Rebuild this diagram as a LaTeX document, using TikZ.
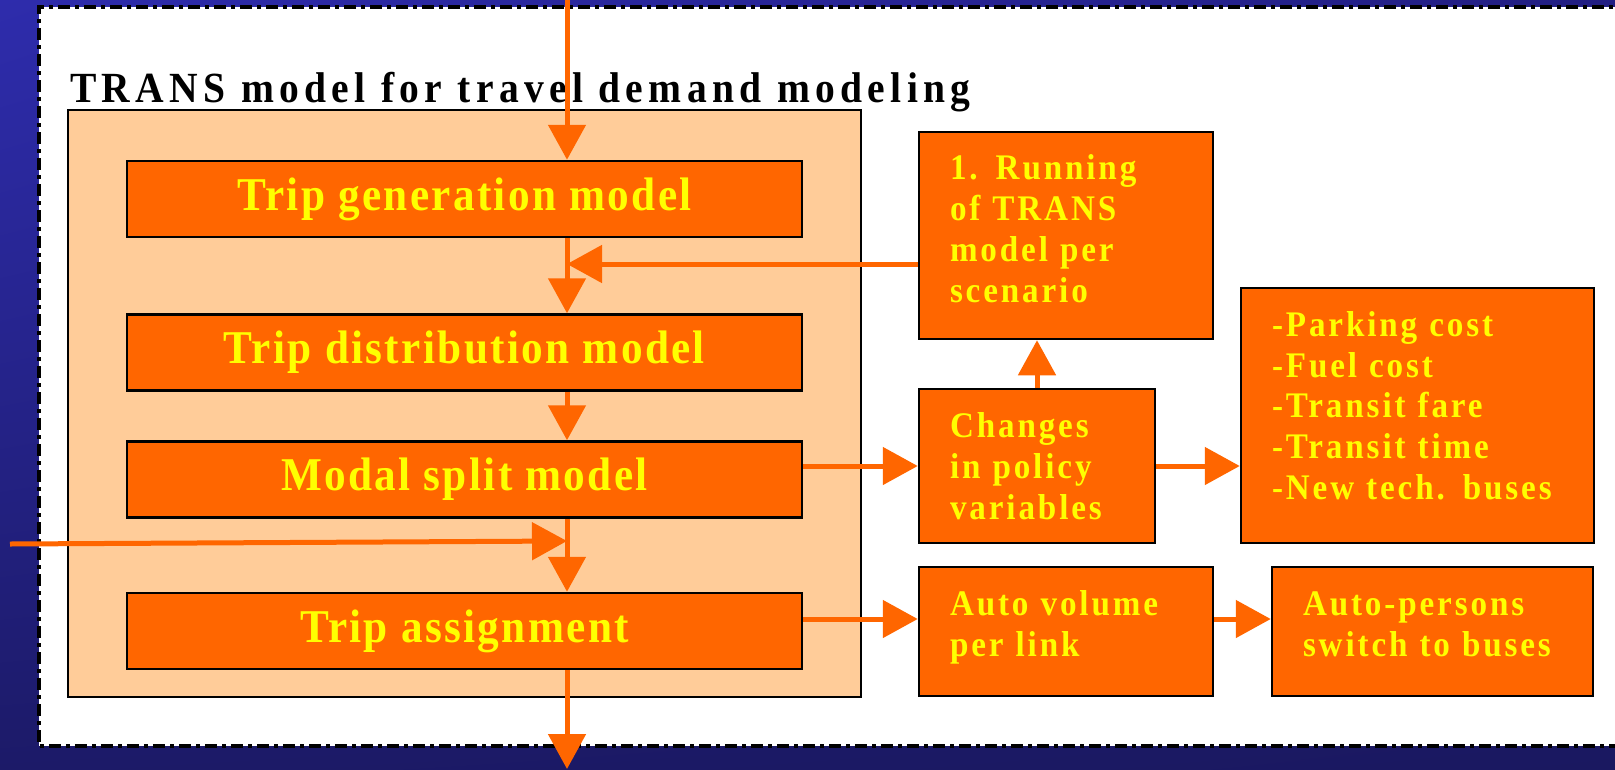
\documentclass[tikz,border=0pt]{standalone}
\usepackage{fontspec}
\setmainfont{Liberation Serif}
\newfontfamily\titlefont[FakeStretch=0.92,LetterSpace=12.5]{Liberation Serif}
\newfontfamily\stagefont[FakeStretch=0.92,LetterSpace=5]{Liberation Serif}
\newfontfamily\notefont[FakeStretch=0.92,LetterSpace=8]{Liberation Serif}
\usetikzlibrary{arrows.meta,shadings}

\definecolor{bgtl}{RGB}{46,44,172}
\definecolor{bgtr}{RGB}{34,30,130}
\definecolor{bgbl}{RGB}{28,26,104}
\definecolor{bgbr}{RGB}{26,24,96}
\definecolor{modelorange}{RGB}{255,102,0}
\definecolor{modelyellow}{RGB}{255,255,0}
\definecolor{peach}{RGB}{255,204,153}

\begin{document}
\begin{tikzpicture}[x=1pt, y=-1pt,
    stage/.style={draw, line width=2.5pt, fill=modelorange, text=modelyellow,
        minimum width=675pt, minimum height=76pt, inner sep=0pt,
        font=\stagefont\bfseries\fontsize{47}{54}\selectfont},
    note/.style={draw, line width=2.5pt, fill=modelorange, text=modelyellow,
        align=left, inner ysep=0pt, inner xsep=31pt,
        font=\notefont\bfseries\fontsize{36}{40.7}\selectfont},
    flow/.style={draw=modelorange, line width=5pt,
        -{Triangle[length=35pt,width=37pt]}}]

        \useasboundingbox (0,0) rectangle (1615,769);
        \clip (0,0) rectangle (1615,769);

        % Background and frame
        \shade[upper left=bgtl, upper right=bgtr, lower left=bgbl, lower right=bgbr]
            (0,0) rectangle (1615,769);
        \fill[white] (39,7) rectangle (1630,746);
        \draw[line width=3.5pt, dash pattern=on 12pt off 5pt on 4pt off 5pt]
            (1630,7) -- (39,7) -- (39,746) -- (1630,746);

        % Title and model block
        \node[anchor=base west, inner sep=0pt, font=\titlefont\bfseries\fontsize{43}{46}\selectfont]
            (title) at (70,102) {TRANS model for travel demand modeling};
        \node[draw, line width=2.5pt, fill=peach, minimum width=793pt, minimum height=587pt]
            (trans) at (464.5,403.5) {};

        % Nodes
        \node[stage] (gen) at (464.5,199) {Trip generation model};
        \node[stage] (dist) at (464.5,352.5) {Trip distribution model};
        \node[stage] (modal) at (464.5,479.5) {Modal split model};
        \node[stage] (assign) at (464.5,631) {Trip assignment};

        % text depth lifts the lines a little inside the taller boxes
        \node[note, text width=232pt, minimum height=207pt, text depth=136pt] (run) at (1066,235.5)
            {1. Running\\of TRANS\\model per\\scenario};
        \node[note, text width=174pt, minimum height=154pt] (chg) at (1037,466)
            {Changes\\in policy\\variables};
        \node[note, text width=291pt, minimum height=255pt, text depth=183pt] (list) at (1417.5,415.5)
            {-Parking cost\\-Fuel cost\\-Transit fare\\-Transit time\\-New tech. buses};
        \node[note, text width=232pt, minimum height=129pt, text depth=56pt] (vol) at (1066,631.5)
            {Auto volume\\per link};
        \node[note, text width=259pt, minimum height=129pt, text depth=55pt] (pers) at (1432.5,631.5)
            {Auto-persons\\switch to buses};

        \coordinate (col) at (567,0);
        \coordinate (top) at (567,0);
        \coordinate (exit) at (567,769);
        \coordinate (sidein) at (10,544);
        \coordinate (sidejoin) at (567,541);

        % Edges
        \draw[flow] (top) -- (gen.north -| col);
        \draw[flow] (gen.south -| col) -- (dist.north -| col);
        \draw[flow] (dist.south -| col) -- (modal.north -| col);
        \draw[flow] (modal.south -| col) -- (assign.north -| col);
        \draw[flow] (assign.south -| col) -- (exit);
        \draw[flow] ([yshift=-28.5pt]run.west) -- ([yshift=-28.5pt]run.west -| col);
        \draw[flow] (sidein) -- (sidejoin);

        \draw[flow] (chg.north) -- (chg.north |- run.south);
        \draw[flow] (modal.east |- chg.west) -- (chg.west);
        \draw[flow] (chg.east) -- (chg.east -| list.west);
        \draw[flow] ([yshift=12.5pt]vol.west -| assign.east) -- ([yshift=12.5pt]vol.west);
        \draw[flow] ([yshift=12.5pt]vol.east) -- ([yshift=12.5pt]pers.west);
    \end{tikzpicture}
\end{document}
